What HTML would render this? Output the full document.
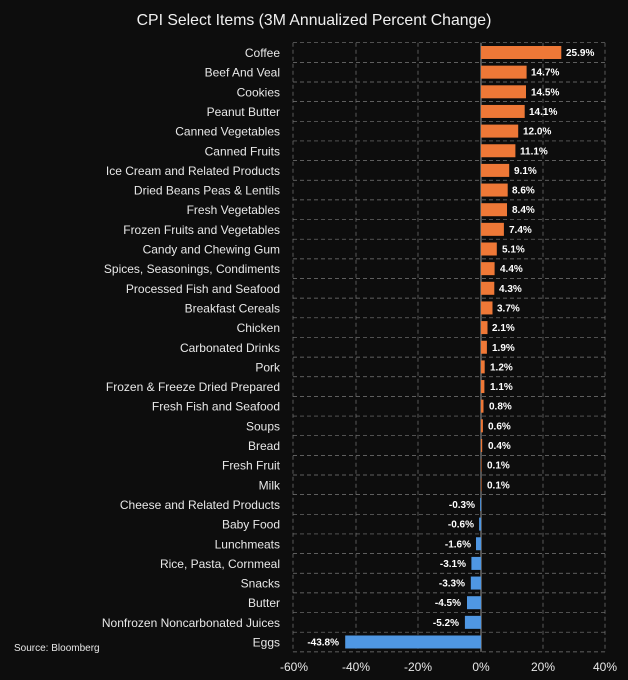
<!DOCTYPE html>
<html><head><meta charset="utf-8"><style>
html,body{margin:0;padding:0;background:#0d0d0d;}
svg{display:block;font-family:"Liberation Sans",sans-serif;}
.l{fill:#e8e8e8;font-size:12px;text-anchor:end;}
.v{fill:#fff;font-size:10px;font-weight:bold;}
.n{text-anchor:end;}
.o{fill:#ee7837;}
.b{fill:#4f97e3;}
.t{fill:#e8e8e8;font-size:12px;text-anchor:middle;}
</style></head><body>
<svg width="628" height="680" viewBox="0 0 628 680">
<rect width="628" height="680" fill="#0d0d0d"/>
<text x="314" y="25" fill="#f0f0f0" font-size="15.8" text-anchor="middle">CPI Select Items (3M Annualized Percent Change)</text>
<g stroke="#7a7a7a" stroke-width="0.7" stroke-dasharray="4,3" fill="none">
<path d="M293 42.7H605M293 62.35H605M293 82H605M293 101.65H605M293 121.3H605M293 140.95H605M293 160.6H605M293 180.25H605M293 199.9H605M293 219.55H605M293 239.2H605M293 258.85H605M293 278.5H605M293 298.15H605M293 317.8H605M293 337.45H605M293 357.1H605M293 376.75H605M293 396.4H605M293 416.05H605M293 435.7H605M293 455.35H605M293 475H605M293 494.65H605M293 514.3H605M293 533.95H605M293 553.6H605M293 573.25H605M293 592.9H605M293 612.55H605M293 632.2H605M293 651.85H605"/>
<path d="M293 42.7V651.85M356 42.7V651.85M418 42.7V651.85M543 42.7V651.85M605 42.7V651.85"/>
</g>
<line x1="481" y1="42.7" x2="481" y2="651.85" stroke="#9a9a9a" stroke-width="1"/>
<g transform="translate(0,52.5)"><text class="l" x="280" y="4.5">Coffee</text><rect class="o" x="481" y="-6.5" width="80.3" height="13"/><text class="v" x="566" y="3.5">25.9%</text></g>
<g transform="translate(0,72.15)"><text class="l" x="280" y="4.5">Beef And Veal</text><rect class="o" x="481" y="-6.5" width="45.6" height="13"/><text class="v" x="531" y="3.5">14.7%</text></g>
<g transform="translate(0,91.8)"><text class="l" x="280" y="4.5">Cookies</text><rect class="o" x="481" y="-6.5" width="45" height="13"/><text class="v" x="531" y="3.5">14.5%</text></g>
<g transform="translate(0,111.45)"><text class="l" x="280" y="4.5">Peanut Butter</text><rect class="o" x="481" y="-6.5" width="43.7" height="13"/><text class="v" x="529" y="3.5">14.1%</text></g>
<g transform="translate(0,131.1)"><text class="l" x="280" y="4.5">Canned Vegetables</text><rect class="o" x="481" y="-6.5" width="37.2" height="13"/><text class="v" x="523" y="3.5">12.0%</text></g>
<g transform="translate(0,150.75)"><text class="l" x="280" y="4.5">Canned Fruits</text><rect class="o" x="481" y="-6.5" width="34.4" height="13"/><text class="v" x="520" y="3.5">11.1%</text></g>
<g transform="translate(0,170.4)"><text class="l" x="280" y="4.5">Ice Cream and Related Products</text><rect class="o" x="481" y="-6.5" width="28.2" height="13"/><text class="v" x="514" y="3.5">9.1%</text></g>
<g transform="translate(0,190.05)"><text class="l" x="280" y="4.5">Dried Beans Peas &amp; Lentils</text><rect class="o" x="481" y="-6.5" width="26.7" height="13"/><text class="v" x="512" y="3.5">8.6%</text></g>
<g transform="translate(0,209.7)"><text class="l" x="280" y="4.5">Fresh Vegetables</text><rect class="o" x="481" y="-6.5" width="26" height="13"/><text class="v" x="512" y="3.5">8.4%</text></g>
<g transform="translate(0,229.35)"><text class="l" x="280" y="4.5">Frozen Fruits and Vegetables</text><rect class="o" x="481" y="-6.5" width="22.9" height="13"/><text class="v" x="509" y="3.5">7.4%</text></g>
<g transform="translate(0,249)"><text class="l" x="280" y="4.5">Candy and Chewing Gum</text><rect class="o" x="481" y="-6.5" width="15.8" height="13"/><text class="v" x="502" y="3.5">5.1%</text></g>
<g transform="translate(0,268.65)"><text class="l" x="280" y="4.5">Spices, Seasonings, Condiments</text><rect class="o" x="481" y="-6.5" width="13.6" height="13"/><text class="v" x="500" y="3.5">4.4%</text></g>
<g transform="translate(0,288.3)"><text class="l" x="280" y="4.5">Processed Fish and Seafood</text><rect class="o" x="481" y="-6.5" width="13.3" height="13"/><text class="v" x="499" y="3.5">4.3%</text></g>
<g transform="translate(0,307.95)"><text class="l" x="280" y="4.5">Breakfast Cereals</text><rect class="o" x="481" y="-6.5" width="11.5" height="13"/><text class="v" x="497" y="3.5">3.7%</text></g>
<g transform="translate(0,327.6)"><text class="l" x="280" y="4.5">Chicken</text><rect class="o" x="481" y="-6.5" width="6.5" height="13"/><text class="v" x="492" y="3.5">2.1%</text></g>
<g transform="translate(0,347.25)"><text class="l" x="280" y="4.5">Carbonated Drinks</text><rect class="o" x="481" y="-6.5" width="5.9" height="13"/><text class="v" x="492" y="3.5">1.9%</text></g>
<g transform="translate(0,366.9)"><text class="l" x="280" y="4.5">Pork</text><rect class="o" x="481" y="-6.5" width="3.7" height="13"/><text class="v" x="490" y="3.5">1.2%</text></g>
<g transform="translate(0,386.55)"><text class="l" x="280" y="4.5">Frozen &amp; Freeze Dried Prepared</text><rect class="o" x="481" y="-6.5" width="3.4" height="13"/><text class="v" x="490" y="3.5">1.1%</text></g>
<g transform="translate(0,406.2)"><text class="l" x="280" y="4.5">Fresh Fish and Seafood</text><rect class="o" x="481" y="-6.5" width="2.5" height="13"/><text class="v" x="489" y="3.5">0.8%</text></g>
<g transform="translate(0,425.85)"><text class="l" x="280" y="4.5">Soups</text><rect class="o" x="481" y="-6.5" width="1.9" height="13"/><text class="v" x="488" y="3.5">0.6%</text></g>
<g transform="translate(0,445.5)"><text class="l" x="280" y="4.5">Bread</text><rect class="o" x="481" y="-6.5" width="1.2" height="13"/><text class="v" x="488" y="3.5">0.4%</text></g>
<g transform="translate(0,465.15)"><text class="l" x="280" y="4.5">Fresh Fruit</text><rect class="o" x="481" y="-6.5" width="0.5" height="13"/><text class="v" x="487" y="3.5">0.1%</text></g>
<g transform="translate(0,484.8)"><text class="l" x="280" y="4.5">Milk</text><rect class="o" x="481" y="-6.5" width="0.5" height="13"/><text class="v" x="487" y="3.5">0.1%</text></g>
<g transform="translate(0,504.45)"><text class="l" x="280" y="4.5">Cheese and Related Products</text><rect class="b" x="480.1" y="-6.5" width="0.9" height="13"/><text class="v n" x="475" y="3.5">-0.3%</text></g>
<g transform="translate(0,524.1)"><text class="l" x="280" y="4.5">Baby Food</text><rect class="b" x="479.1" y="-6.5" width="1.9" height="13"/><text class="v n" x="474" y="3.5">-0.6%</text></g>
<g transform="translate(0,543.75)"><text class="l" x="280" y="4.5">Lunchmeats</text><rect class="b" x="476" y="-6.5" width="5" height="13"/><text class="v n" x="471" y="3.5">-1.6%</text></g>
<g transform="translate(0,563.4)"><text class="l" x="280" y="4.5">Rice, Pasta, Cornmeal</text><rect class="b" x="471.4" y="-6.5" width="9.6" height="13"/><text class="v n" x="466" y="3.5">-3.1%</text></g>
<g transform="translate(0,583.05)"><text class="l" x="280" y="4.5">Snacks</text><rect class="b" x="470.8" y="-6.5" width="10.2" height="13"/><text class="v n" x="465" y="3.5">-3.3%</text></g>
<g transform="translate(0,602.7)"><text class="l" x="280" y="4.5">Butter</text><rect class="b" x="467" y="-6.5" width="14" height="13"/><text class="v n" x="461" y="3.5">-4.5%</text></g>
<g transform="translate(0,622.35)"><text class="l" x="280" y="4.5">Nonfrozen Noncarbonated Juices</text><rect class="b" x="464.9" y="-6.5" width="16.1" height="13"/><text class="v n" x="459" y="3.5">-5.2%</text></g>
<g transform="translate(0,642)"><text class="l" x="280" y="4.5">Eggs</text><rect class="b" x="345.2" y="-6.5" width="135.8" height="13"/><text class="v n" x="339" y="3.5">-43.8%</text></g>
<text x="14" y="651" fill="#e8e8e8" font-size="10">Source: Bloomberg</text>
<text class="t" x="294" y="671">-60%</text>
<text class="t" x="356" y="671">-40%</text>
<text class="t" x="418" y="671">-20%</text>
<text class="t" x="481" y="671">0%</text>
<text class="t" x="543" y="671">20%</text>
<text class="t" x="605" y="671">40%</text>
</svg>
</body></html>
